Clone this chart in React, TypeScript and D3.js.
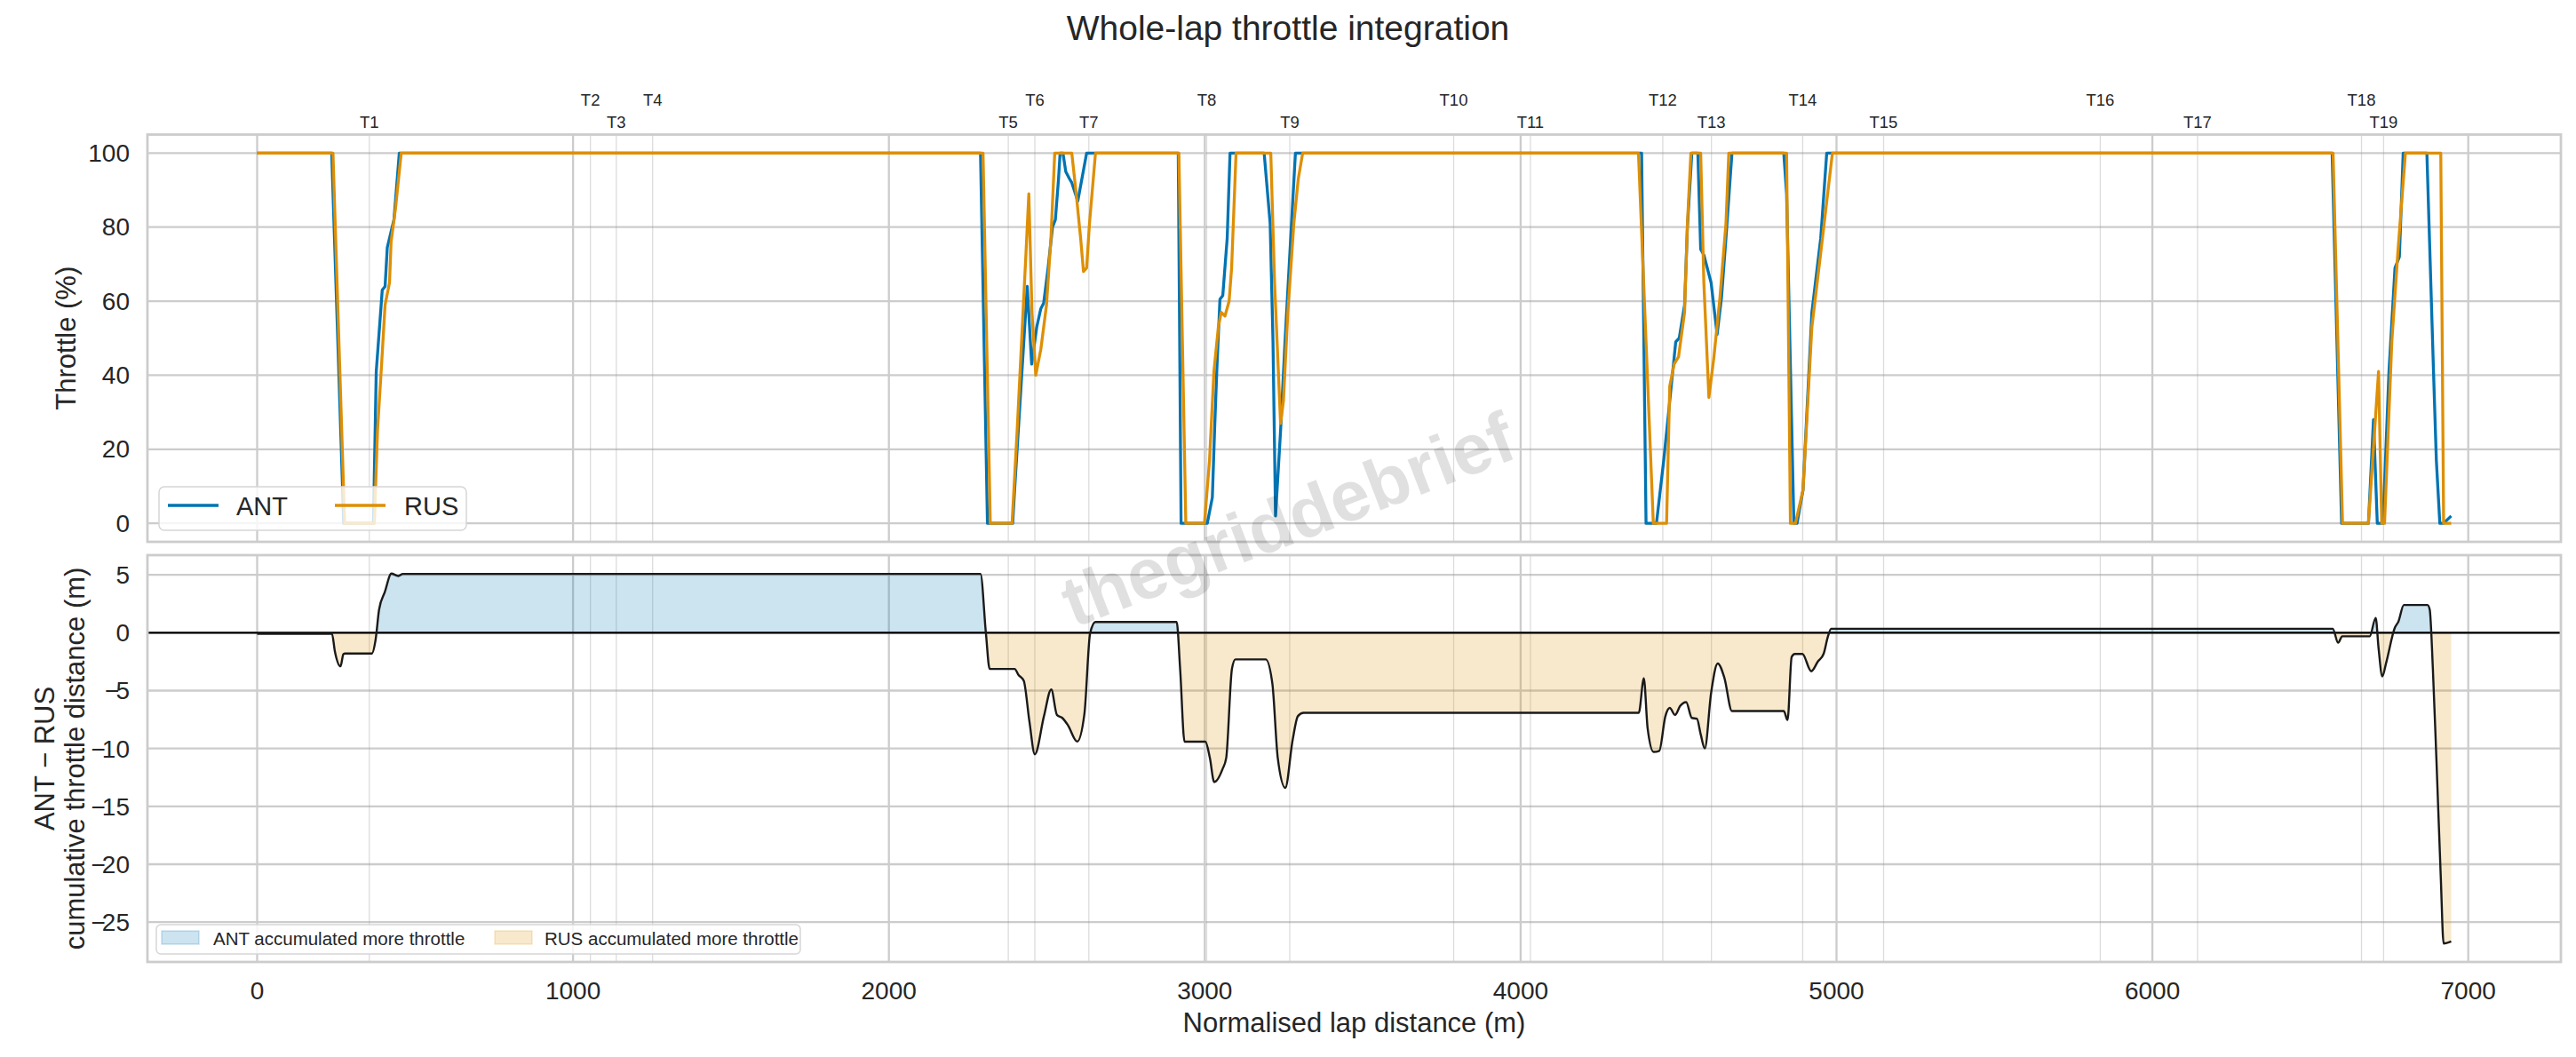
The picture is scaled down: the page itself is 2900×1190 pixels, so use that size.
import React from 'react';
import * as d3 from 'd3';

// ---------------- DATA ----------------
const TURN_NAMES = ['T1','T2','T3','T4','T5','T6','T7','T8','T9','T10','T11','T12','T13','T14','T15','T16','T17','T18','T19'];
const TURN_DIST = [355, 1055, 1137, 1252, 2378, 2462, 2633, 3006, 3269, 3788, 4031, 4450, 4604, 4893, 5149, 5835, 6143, 6662, 6732];

const ANT_THROTTLE: [number, number][] = [
  [0,100],[236,100],[274,0],[368,0],[377,41],[396,63],[405,64],[412,74.5],[433,82],[450,100],
  [2290,100],[2312,0],[2392,0],[2398,9],[2438,64],[2452,43],[2468,53],[2481,58],[2490,59.5],[2504,69],[2518,80],[2527,82],[2537,93],[2542,100],[2551,100],[2560,95],[2572,93],[2579,92],[2598,87],[2626,100],
  [2916,100],[2925,0],[3008,0],[3024,7],[3031,25],[3038,41],[3048,60.5],[3057,61.5],[3071,77],[3080,100],
  [3188,100],[3207,81],[3216,49],[3224,2],[3240,25],[3254,49],[3272,77],[3287,100],
  [4383,100],[4397,0],[4430,0],[4453,17],[4472,33],[4491,49],[4502,50],[4519,59],[4528,80],[4542,100],[4561,100],[4570,74],[4580,72.5],[4603,65],[4622,51],[4636,61],[4650,77],[4669,100],
  [4833,100],[4842,89],[4865,0],[4875,0],[4894,9],[4922,57],[4950,77],[4969,100],
  [6569,100],[6599,0],[6684,0],[6700,28],[6712,0],[6730,0],[6749,41],[6768,69],[6782,72],[6794,100],
  [6869,100],[6890,41],[6899,17],[6910,0],[6922,0],[6946,2],
];

const RUS_THROTTLE: [number, number][] = [
  [0,100],[240,100],[277,0],[371,0],[381,25],[394,43],[405,59],[419,65],[424,76],[438,85],[456,100],
  [2298,100],[2321,0],[2390,0],[2406,25],[2420,49],[2434,73],[2443,89],[2453,57],[2465,40],[2481,47],[2499,59],[2513,77],[2525,100],[2579,100],[2593,89],[2607,77],[2616,68],[2626,69],[2635,81],[2654,100],
  [2918,100],[2940,0],[2999,0],[3015,17],[3029,41],[3043,53],[3052,57],[3064,56],[3077,60],[3085,69],[3099,100],
  [3209,100],[3221,65],[3240,27],[3249,33],[3263,57],[3282,81],[3296,93],[3310,100],
  [4373,100],[4397,49],[4420,0],[4462,0],[4472,37],[4486,43],[4500,45],[4519,57],[4528,81],[4539,100],[4570,100],[4580,65],[4596,34],[4612,45],[4631,61],[4650,81],[4659,100],
  [4842,100],[4854,0],[4870,0],[4894,9],[4922,53],[4950,73],[4987,100],
  [6572,100],[6602,0],[6684,0],[6716,41],[6726,0],[6735,0],[6758,49],[6777,73],[6801,100],
  [6913,100],[6922,0],[6946,0],
];

const DELTA_CUM: [number, number][] = [
  [0,-0.1],[237,-0.1],[246,-1.6],[264,-2.9],[273,-1.85],[278,-1.8],[363,-1.8],[375,-0.6],[386,2.0],[404,3.5],[425,5.1],[447,4.9],[461,5.08],
  [2290,5.08],[2307,0],[2319,-3.13],[2398,-3.13],[2410,-3.64],[2427,-4.15],[2445,-7.7],[2462,-10.5],[2491,-7.2],[2514,-4.9],[2532,-7.1],[2549,-7.36],[2567,-8.0],[2596,-9.4],[2619,-7.0],[2637,-0.05],[2654,0.92],
  [2911,0.92],[2922,-3.13],[2936,-9.41],[3002,-9.41],[3016,-10.8],[3030,-12.9],[3056,-11.8],[3068,-10.8],[3086,-3.13],[3097,-2.31],
  [3193,-2.31],[3214,-4.4],[3231,-10.8],[3255,-13.4],[3278,-9.3],[3295,-7.2],[3313,-6.92],
  [4374,-6.92],[4390,-3.95],[4402,-8.25],[4421,-10.3],[4439,-10.2],[4458,-7.23],[4472,-6.5],[4489,-7.1],[4505,-6.33],[4524,-6.0],[4542,-7.36],[4558,-7.43],[4570,-8.77],[4583,-10.0],[4603,-5.2],[4624,-2.66],[4645,-3.9],[4669,-6.77],
  [4833,-6.77],[4845,-7.54],[4858,-2.1],[4868,-1.84],[4892,-1.84],[4920,-3.33],[4941,-2.49],[4959,-1.84],[4973,-0.31],[4983,0.34],
  [6571,0.34],[6588,-0.87],[6601,-0.31],[6688,-0.31],[6707,1.28],[6716,-1.33],[6728,-3.77],[6740,-2.61],[6768,0.46],[6779,0.97],[6796,2.39],
  [6871,2.39],[6878,2.0],[6888,-3.13],[6899,-10.8],[6913,-21.1],[6922,-26.84],[6946,-26.66],
];

const X_TICKS = [0, 1000, 2000, 3000, 4000, 5000, 6000, 7000];
const THR_TICKS = [0, 20, 40, 60, 80, 100];
const DELTA_TICKS = [-25, -20, -15, -10, -5, 0, 5];

const SERIES_NAMES = ['ANT', 'RUS'];
const COLORS = { ANT: '#0173b2', RUS: '#de8f05' };

// ---------------- LAYOUT ----------------
const W = 2900, H = 1190;
const L = 166, R = 2883;
const TOP = { y0: 151.5, y1: 610 };
const BOT = { y0: 625, y1: 1083 };
const FONT = "'Liberation Sans', Arial, 'Helvetica Neue', sans-serif";
const TXT = '#262626';
const GRID = '#cccccc';
const TICK_FS = 28;
const YTICK_X = 146;

const tickLabel = (v: number) =>
  v < 0 ? (
    <>
      <tspan>{'\u2212'}</tspan>
      <tspan dx={-4}>{Math.abs(v)}</tspan>
    </>
  ) : (
    String(v)
  );

export default function App() {
  const xMax = d3.max(ANT_THROTTLE, d => d[0]) as number;
  const xPad = 0.05 * xMax;
  const x = d3.scaleLinear().domain([-xPad, xMax + xPad]).range([L, R]);
  const yT = d3.scaleLinear().domain([-5, 105]).range([TOP.y1, TOP.y0]);
  const dMin = d3.min(DELTA_CUM, d => d[1]) as number;
  const dMax = d3.max(DELTA_CUM, d => d[1]) as number;
  const dPad = 0.05 * (dMax - dMin);
  const yB = d3.scaleLinear().domain([dMin - dPad, dMax + dPad]).range([BOT.y1, BOT.y0]);

  const lineT = d3.line<[number, number]>().x(d => x(d[0])).y(d => yT(d[1]));
  const lineB = d3.line<[number, number]>().x(d => x(d[0])).y(d => yB(d[1])).curve(d3.curveMonotoneX);
  const areaB = d3.area<[number, number]>().x(d => x(d[0])).y0(yB(0)).y1(d => yB(d[1])).curve(d3.curveMonotoneX);

  const y0B = yB(0);

  const panelGrid = (yScale: d3.ScaleLinear<number, number>, ticks: number[], box: { y0: number; y1: number }) => (
    <g>
      {ticks.map(t => (
        <line key={'h' + t} x1={L} x2={R} y1={yScale(t)} y2={yScale(t)} stroke={GRID} strokeWidth={2.3} />
      ))}
      {X_TICKS.map(t => (
        <line key={'v' + t} x1={x(t)} x2={x(t)} y1={box.y0} y2={box.y1} stroke={GRID} strokeWidth={2.3} />
      ))}
      {TURN_DIST.map((t, i) => (
        <line key={'t' + i} x1={x(t)} x2={x(t)} y1={box.y0} y2={box.y1} stroke="#9a9a9a" strokeOpacity={0.35} strokeWidth={1.3} />
      ))}
    </g>
  );

  return (
    <svg width={W} height={H} viewBox={`0 0 ${W} ${H}`} style={{ position: 'absolute', left: 0, top: 0, background: '#fff' }} fontFamily={FONT}>
      <defs>
        <clipPath id="clipTop"><rect x={L} y={TOP.y0} width={R - L} height={TOP.y1 - TOP.y0} /></clipPath>
        <clipPath id="clipBot"><rect x={L} y={BOT.y0} width={R - L} height={BOT.y1 - BOT.y0} /></clipPath>
        <clipPath id="clipPos"><rect x={L} y={BOT.y0} width={R - L} height={y0B - BOT.y0} /></clipPath>
        <clipPath id="clipNeg"><rect x={L} y={y0B} width={R - L} height={BOT.y1 - y0B} /></clipPath>
      </defs>
      <rect x={0} y={0} width={W} height={H} fill="#fff" />

      {/* Title */}
      <text x={1450} y={31} textAnchor="middle" dominantBaseline="central" fontSize={39} fill={TXT}>Whole-lap throttle integration</text>

      {/* Turn labels */}
      {TURN_DIST.map((t, i) => (
        <text key={'tl' + i} x={x(t)} y={i % 2 === 1 ? 112 : 137} textAnchor="middle" dominantBaseline="central" fontSize={18.5} fill={TXT}>{TURN_NAMES[i]}</text>
      ))}

      {/* ---------- TOP PANEL ---------- */}
      {panelGrid(yT, THR_TICKS, TOP)}
      <g clipPath="url(#clipTop)">
        <path d={lineT(ANT_THROTTLE) || ''} fill="none" stroke={COLORS.ANT} strokeWidth={3.3} strokeLinejoin="round" />
        <path d={lineT(RUS_THROTTLE) || ''} fill="none" stroke={COLORS.RUS} strokeWidth={3.3} strokeLinejoin="round" />
      </g>
      <rect x={L} y={TOP.y0} width={R - L} height={TOP.y1 - TOP.y0} fill="none" stroke={GRID} strokeWidth={2.8} />
      {THR_TICKS.map(t => (
        <text key={'yt' + t} x={YTICK_X} y={yT(t)} textAnchor="end" dominantBaseline="central" fontSize={TICK_FS} fill={TXT}>{tickLabel(t)}</text>
      ))}
      <text transform={`translate(74,${(TOP.y0 + TOP.y1) / 2}) rotate(-90)`} textAnchor="middle" dominantBaseline="central" fontSize={31} fill={TXT}>Throttle (%)</text>

      {/* top legend */}
      <g>
        <rect x={179} y={548} width={346} height={49} rx={6} fill="#fff" fillOpacity={0.8} stroke="#d6d6d6" strokeWidth={1.5} />
        <line x1={189} x2={246} y1={569} y2={569} stroke={COLORS.ANT} strokeWidth={3.3} />
        <text x={266} y={570} dominantBaseline="central" fontSize={29} fill={TXT}>{SERIES_NAMES[0]}</text>
        <line x1={377} x2={434} y1={569} y2={569} stroke={COLORS.RUS} strokeWidth={3.3} />
        <text x={455} y={570} dominantBaseline="central" fontSize={29} fill={TXT}>{SERIES_NAMES[1]}</text>
      </g>

      {/* ---------- BOTTOM PANEL ---------- */}
      {panelGrid(yB, DELTA_TICKS, BOT)}
      <g clipPath="url(#clipBot)">
        <path d={areaB(DELTA_CUM) || ''} fill={COLORS.ANT} fillOpacity={0.2} clipPath="url(#clipPos)" />
        <path d={areaB(DELTA_CUM) || ''} fill={COLORS.RUS} fillOpacity={0.2} clipPath="url(#clipNeg)" />
        <line x1={L} x2={R} y1={y0B} y2={y0B} stroke="#000" strokeWidth={2.2} />
        <path d={lineB(DELTA_CUM) || ''} fill="none" stroke="#1a1a1a" strokeWidth={2.4} strokeLinejoin="round" />
      </g>
      <rect x={L} y={BOT.y0} width={R - L} height={BOT.y1 - BOT.y0} fill="none" stroke={GRID} strokeWidth={2.8} />
      {DELTA_TICKS.map(t => (
        <text key={'yb' + t} x={YTICK_X} y={yB(t)} textAnchor="end" dominantBaseline="central" fontSize={TICK_FS} fill={TXT}>{tickLabel(t)}</text>
      ))}
      <text transform={`translate(50,${(BOT.y0 + BOT.y1) / 2}) rotate(-90)`} textAnchor="middle" dominantBaseline="central" fontSize={31} fill={TXT}>ANT − RUS</text>
      <text transform={`translate(84,${(BOT.y0 + BOT.y1) / 2}) rotate(-90)`} textAnchor="middle" dominantBaseline="central" fontSize={31} fill={TXT}>cumulative throttle distance (m)</text>

      {/* bottom legend */}
      <g>
        <rect x={176} y={1041} width={725} height={33} rx={5} fill="#fff" fillOpacity={0.8} stroke="#d6d6d6" strokeWidth={1.5} />
        <rect x={182} y={1048} width={42} height={15} fill={COLORS.ANT} fillOpacity={0.2} stroke={COLORS.ANT} strokeOpacity={0.2} strokeWidth={1.5} />
        <text x={240} y={1056} dominantBaseline="central" fontSize={20.5} fill={TXT}>ANT accumulated more throttle</text>
        <rect x={557} y={1048} width={42} height={15} fill={COLORS.RUS} fillOpacity={0.2} stroke={COLORS.RUS} strokeOpacity={0.2} strokeWidth={1.5} />
        <text x={613} y={1056} dominantBaseline="central" fontSize={20.5} fill={TXT}>RUS accumulated more throttle</text>
      </g>

      {/* x ticks and label */}
      {X_TICKS.map(t => (
        <text key={'xt' + t} x={x(t)} y={1115} textAnchor="middle" dominantBaseline="central" fontSize={TICK_FS} fill={TXT}>{t}</text>
      ))}
      <text x={(L + R) / 2} y={1151} textAnchor="middle" dominantBaseline="central" fontSize={31} fill={TXT}>Normalised lap distance (m)</text>

      {/* watermark */}
      <text transform="translate(1450,585) rotate(-21)" textAnchor="middle" dominantBaseline="central" fontSize={80} fontWeight="bold" fill="#000" fillOpacity={0.12}>thegriddebrief</text>
    </svg>
  );
}
